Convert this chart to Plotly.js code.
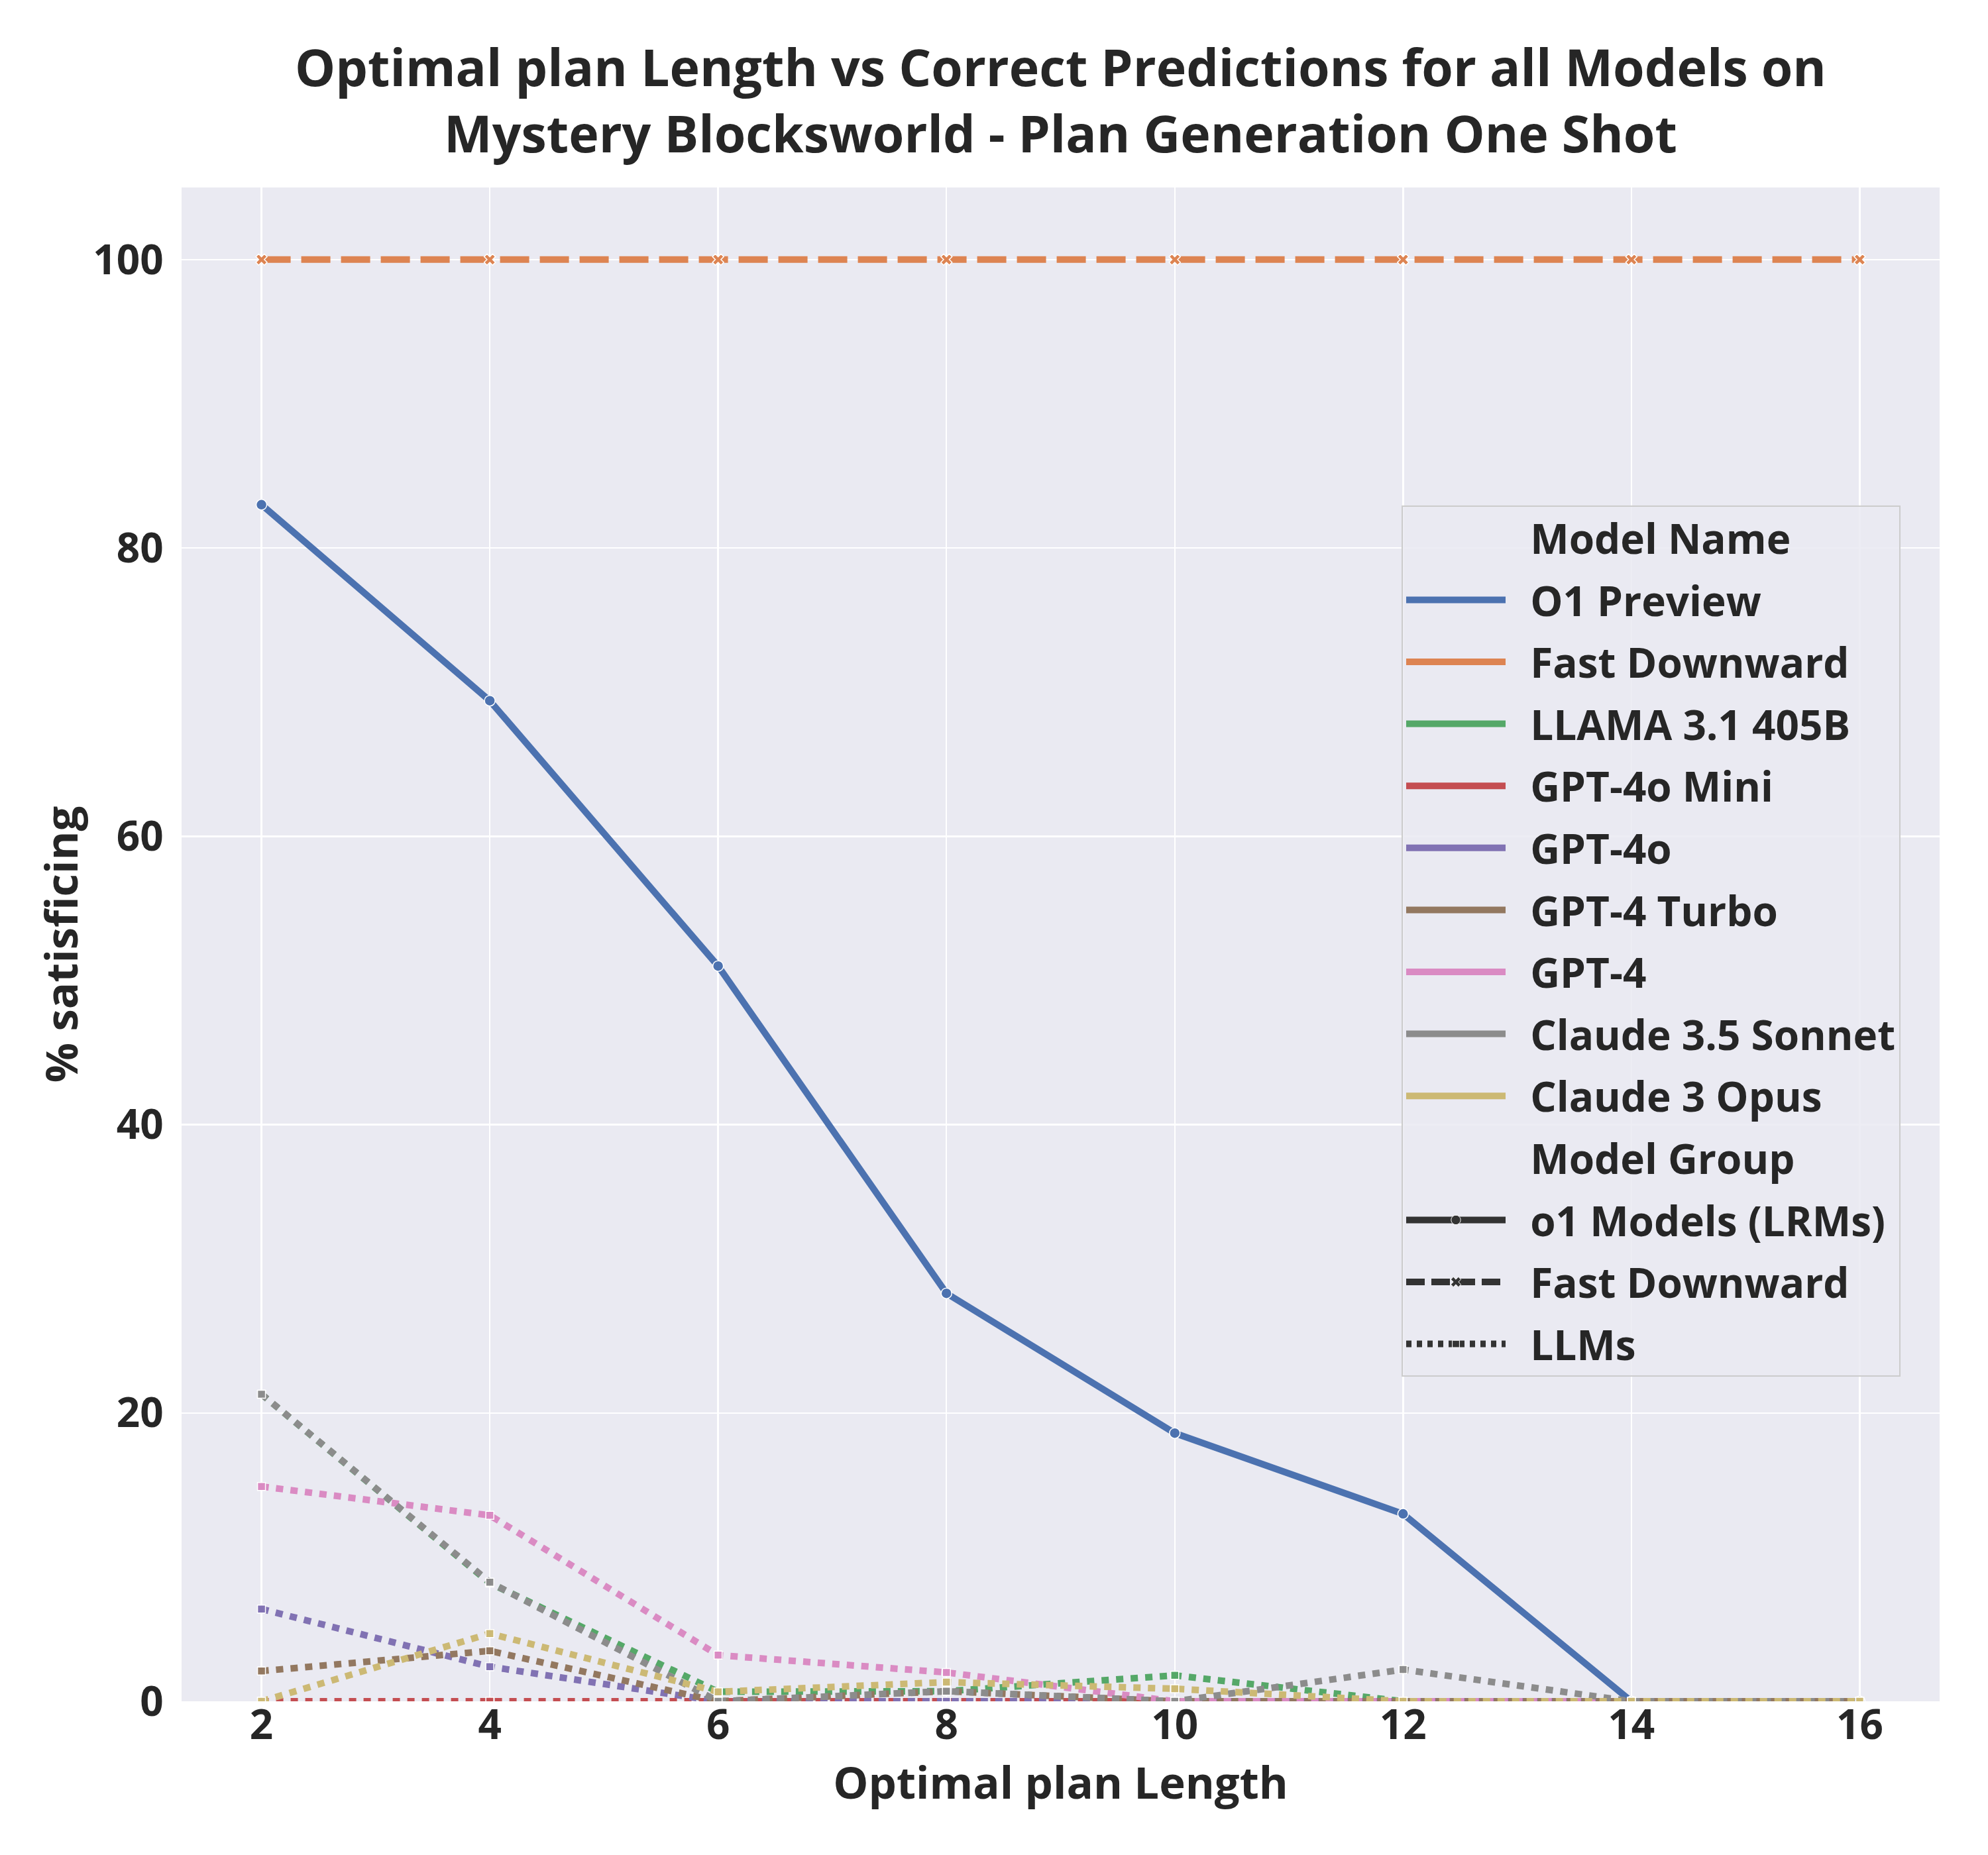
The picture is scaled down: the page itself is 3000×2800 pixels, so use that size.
<!DOCTYPE html>
<html>
<head>
<meta charset="utf-8">
<script src="https://cdn.plot.ly/plotly-3.0.1.min.js"></script>
<style>html,body{margin:0;padding:0;background:#fff;}</style>
</head>
<body>
<div id="chart" style="width:3000px;height:2800px;"></div>
<script>
// ---- data ----
const planLength = [2, 4, 6, 8, 10, 12, 14, 16];

const modelNames = ["O1 Preview", "Fast Downward", "LLAMA 3.1 405B", "GPT-4o Mini", "GPT-4o",
                    "GPT-4 Turbo", "GPT-4", "Claude 3.5 Sonnet", "Claude 3 Opus"];
const modelGroups = ["o1 Models (LRMs)", "Fast Downward", "LLMs", "LLMs", "LLMs",
                     "LLMs", "LLMs", "LLMs", "LLMs"];

const o1Preview      = [83.0, 69.4, 51.0, 28.3, 18.6, 13.0, 0, 0];
const fastDownward   = [100, 100, 100, 100, 100, 100, 100, 100];
const llama405b      = [21.3, 8.2, 0.66, 0.7, 1.8, 0, 0, 0];
const gpt4oMini      = [0, 0, 0, 0, 0, 0, 0, 0];
const gpt4o          = [6.4, 2.4, 0, 0, 0, 0, 0, 0];
const gpt4Turbo      = [2.1, 3.5, 0, 0.7, 0, 0, 0, 0];
const gpt4           = [14.9, 12.9, 3.2, 2.0, 0, 0, 0, 0];
const claude35Sonnet = [21.3, 8.26, 0, 0.7, 0, 2.2, 0, 0];
const claude3Opus    = [0, 4.7, 0.66, 1.33, 0.87, 0, 0, 0];

const seriesValues = [o1Preview, fastDownward, llama405b, gpt4oMini, gpt4o,
                      gpt4Turbo, gpt4, claude35Sonnet, claude3Opus];

const xTickVals = [2, 4, 6, 8, 10, 12, 14, 16];
const yTickVals = [0, 20, 40, 60, 80, 100];

const titleText = "Optimal plan Length vs Correct Predictions for all Models on<br>Mystery Blocksworld - Plan Generation One Shot";
const xTitle = "Optimal plan Length";
const yTitle = "% satisficing";
const legendHeader1 = "Model Name";
const legendHeader2 = "Model Group";
const groupNames = ["o1 Models (LRMs)", "Fast Downward", "LLMs"];

// ---- styles ----
const palette = ["#4C72B0", "#DD8452", "#55A868", "#C44E52", "#8172B3",
                 "#937860", "#DA8BC3", "#8C8C8C", "#CCB974"];
const groupStyle = {
  "o1 Models (LRMs)": {dash: "solid", legDash: "solid", symbol: "circle", msize: 16},
  "Fast Downward": {dash: "44px,16px", legDash: "28px,10px", symbol: "x", msize: 15},
  "LLMs": {dash: "11px,11px", legDash: "8px,8px", symbol: "square", msize: 12}
};
const LW = 10;
const FONT = "'Open Sans', 'DejaVu Sans', sans-serif";
const TXT = "#262626";
const PAD = "\u00a0\u00a0";

const traces = [];
modelNames.forEach((name, i) => {
  const st = groupStyle[modelGroups[i]];
  traces.push({
    x: planLength, y: seriesValues[i], type: "scatter", mode: "lines+markers",
    name: name, showlegend: false,
    line: {color: palette[i], width: LW, dash: st.dash},
    marker: {symbol: st.symbol, size: st.msize, color: palette[i],
             line: {color: "#ffffff", width: 1.5}},
    cliponaxis: true
  });
});

// legend entries
let lg = 0;
function legendEntry(name, color, dash, mode, symbol, msize) {
  lg++;
  const t = {x: [null], y: [null], type: "scatter", mode: mode, name: PAD + name,
             legendgroup: "g" + lg, showlegend: true,
             line: {color: color, width: LW, dash: dash}};
  if (mode.indexOf("markers") >= 0) {
    t.marker = {symbol: symbol, size: msize, color: color, line: {color: "#ffffff", width: 1}};
  }
  traces.push(t);
}
legendEntry(legendHeader1, "rgba(0,0,0,0)", "solid", "lines");
modelNames.forEach((n, i) => legendEntry(n, palette[i], "solid", "lines"));
legendEntry(legendHeader2, "rgba(0,0,0,0)", "solid", "lines");
groupNames.forEach(g => {
  const st = groupStyle[g];
  legendEntry(g, "#333333", st.legDash, "lines+markers", st.symbol, st.msize * 0.9);
});

const layout = {
  width: 3000, height: 2800,
  paper_bgcolor: "#ffffff", plot_bgcolor: "#EAEAF2",
  margin: {l: 274, r: 73, t: 283, b: 232, autoexpand: false},
  font: {family: FONT, color: TXT},
  title: {text: titleText, x: 0.5, xref: "paper", xanchor: "center",
          y: 1 - 130 / 2800, yref: "container", yanchor: "middle",
          font: {family: FONT, size: 77, color: TXT, weight: 700}},
  xaxis: {range: [1.3, 16.7], tickvals: xTickVals, ticktext: xTickVals.map(String),
          showgrid: true, gridcolor: "#ffffff", gridwidth: 2.5, zeroline: false,
          showline: false, ticks: "", ticklabelstandoff: -6,
          tickfont: {family: FONT, size: 62, color: TXT, weight: 700},
          title: {text: xTitle, standoff: 12, font: {family: FONT, size: 67, color: TXT, weight: 700}},
          automargin: false},
  yaxis: {range: [0, 105], tickvals: yTickVals, ticktext: yTickVals.map(String),
          showgrid: true, gridcolor: "#ffffff", gridwidth: 2.5, zeroline: false,
          showline: false, ticks: "outside", ticklen: 14, tickcolor: "rgba(0,0,0,0)",
          tickfont: {family: FONT, size: 62, color: TXT, weight: 700},
          title: {text: yTitle, standoff: 0, font: {family: FONT, size: 67, color: TXT, weight: 700}},
          automargin: false},
  legend: {x: (2115 - 274) / 2653, y: (2568 - 763) / 2285, xanchor: "left", yanchor: "top",
           bgcolor: "rgba(234,234,242,0.85)", bordercolor: "#cccccc", borderwidth: 2,
           font: {family: FONT, size: 62, color: TXT, weight: 700},
           tracegroupgap: 10, itemwidth: 150, itemclick: false, itemdoubleclick: false},
  showlegend: true
};

Plotly.newPlot("chart", traces, layout, {staticPlot: true, displayModeBar: false});
</script>
</body>
</html>
